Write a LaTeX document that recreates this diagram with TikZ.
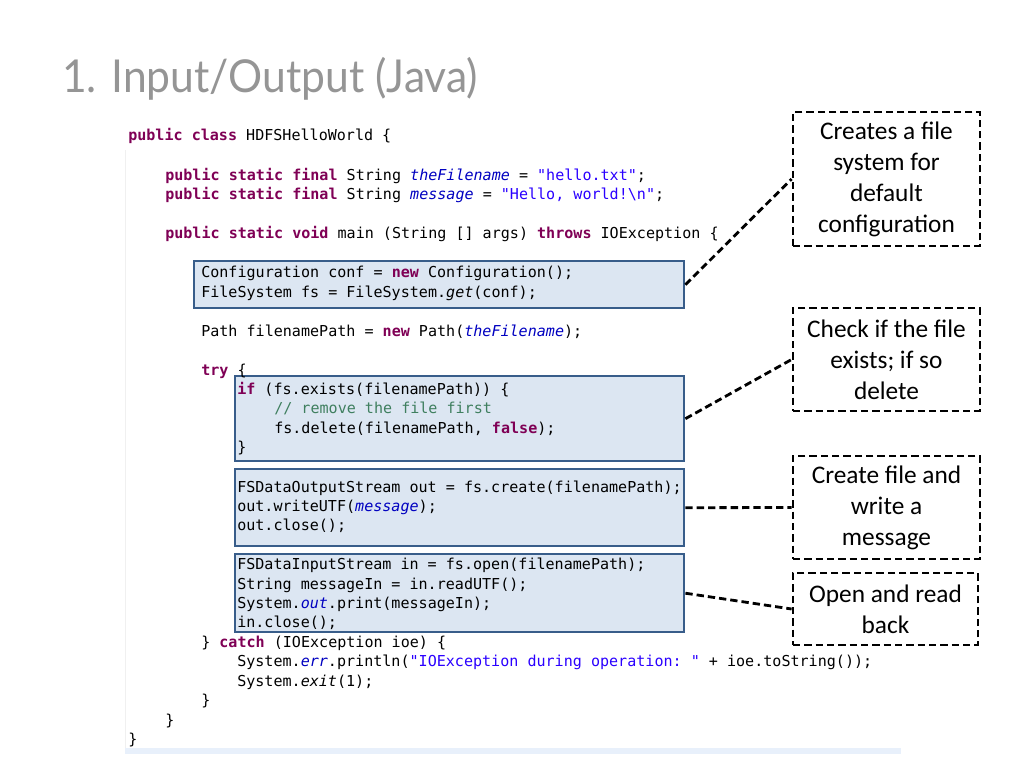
\documentclass[tikz,border=0pt]{standalone}
\usepackage{fontspec}
\setmainfont{Carlito}
\setmonofont{DejaVu Sans Mono}
\newfontfamily\titlefont{Lato}
\usetikzlibrary{positioning}

\definecolor{keyword}{HTML}{7F0055}
\definecolor{field}{HTML}{0000C0}
\definecolor{string}{HTML}{2A00FF}
\definecolor{comment}{HTML}{3F7F5F}
\definecolor{boxfill}{HTML}{DCE6F2}
\definecolor{boxline}{HTML}{385D8A}
\definecolor{titlegray}{HTML}{959595}
\definecolor{strip}{HTML}{E8F0FB}

\newcommand{\kw}[1]{\textcolor{keyword}{\textbf{#1}}}
\newcommand{\fld}[1]{\textcolor{field}{\textit{#1}}}
\newcommand{\strg}[1]{\textcolor{string}{#1}}
\newcommand{\cmt}[1]{\textcolor{comment}{#1}}
\newcommand{\mth}[1]{\textit{#1}}

\tikzset{
  codeline/.style={anchor=base west, inner sep=0pt, font=\ttfamily\fontsize{11.3}{14.6}\selectfont},
  codebox/.style={draw=boxline, fill=boxfill, line width=1.8pt, anchor=north west, inner sep=0pt},
  note/.style={draw, line width=2.1pt, dash pattern=on 5.5pt off 3pt, align=center, inner sep=0pt,
    minimum width=140.25pt, font=\fontsize{19}{23.25}\selectfont},
  link/.style={line width=2.1pt, dash pattern=on 5.5pt off 3pt},
}

\begin{document}
\begin{tikzpicture}[x=0.75pt,y=-0.75pt]
  \useasboundingbox (0,0) rectangle (1024,768);
  % editor margin and bottom strip
  \draw[gray!12] (125,150) -- (125,748);
  \fill[strip] (125,748) rectangle (901,754);

  \node[anchor=base west, inner sep=0pt, text=titlegray, xscale=0.94, transform shape,
    font=\titlefont\fontsize{34}{38}\selectfont] (title) at (62,92) {1. Input/Output (Java)};

  % highlighted parts of the code
  \node[codebox, minimum width=367.5pt, minimum height=35.25pt] (confbox) at (193,260) {};
  \node[codebox, minimum width=336.75pt, minimum height=63.75pt] (existsbox) at (234,375) {};
  \node[codebox, minimum width=336.75pt, minimum height=57.75pt] (writebox) at (234,468) {};
  \node[codebox, minimum width=336.75pt, minimum height=58.5pt] (readbox) at (234,553) {};

  \foreach \name/\x/\y/\txt in {
      code1/128/140/{\kw{public} \kw{class} HDFSHelloWorld \{},
      code2/165/180/{\kw{public} \kw{static} \kw{final} String \fld{theFilename} = \strg{"hello.txt"};},
      code3/165/199/{\kw{public} \kw{static} \kw{final} String \fld{message} = \strg{"Hello, world!\textbackslash n"};},
      code4/165/238/{\kw{public} \kw{static} \kw{void} main (String [] args) \kw{throws} IOException \{},
      code5/201/277/{Configuration conf = \kw{new} Configuration();},
      code6/201/297/{FileSystem fs = FileSystem.\mth{get}(conf);},
      code7/201/336/{Path filenamePath = \kw{new} Path(\fld{theFilename});},
      code8/201/375/{\kw{try} \{},
      code9/237/394/{\kw{if} (fs.exists(filenamePath)) \{},
      code10/274/413/{\cmt{// remove the file first}},
      code11/274/433/{fs.delete(filenamePath, \kw{false});},
      code12/237/452/{\}},
      code13/237/492/{FSDataOutputStream out = fs.create(filenamePath);},
      code14/237/511/{out.writeUTF(\fld{message});},
      code15/237/530/{out.close();},
      code16/237/569/{FSDataInputStream in = fs.open(filenamePath);},
      code17/237/589/{String messageIn = in.readUTF();},
      code18/237/608/{System.\fld{out}.print(messageIn);},
      code19/237/627/{in.close();},
      code20/201/647/{\} \kw{catch} (IOException ioe) \{},
      code21/237/666/{System.\fld{err}.println(\strg{"IOException during operation: "} + ioe.toString());},
      code22/237/686/{System.\mth{exit}(1);},
      code23/201/705/{\}},
      code24/165/725/{\}},
      code25/128/744/{\}}}{
    \node[codeline] (\name) at (\x,\y) {\txt};
  }

  % notes
  \node[note, minimum height=100.5pt] (fsnote) at (886.5,179) {Creates a file\\system for\\default\\configuration};
  \node[note, minimum height=77.25pt] (checknote) at (886.5,359.5) {Check if the file\\exists; if so\\delete};
  \node[note, minimum height=77.25pt] (writenote) at (886.5,507.5) {Create file and\\write a\\message};
  \node[note, minimum width=138.75pt, minimum height=54pt] (readnote) at (885.5,609) {Open and read\\back};

  \draw[link] (confbox.east) -- (fsnote.west);
  \draw[link] (existsbox.east) -- (checknote.west);
  \draw[link] (writebox.east) -- (writenote.west);
  \draw[link] (readbox.east) -- (readnote.west);
\end{tikzpicture}
\end{document}
